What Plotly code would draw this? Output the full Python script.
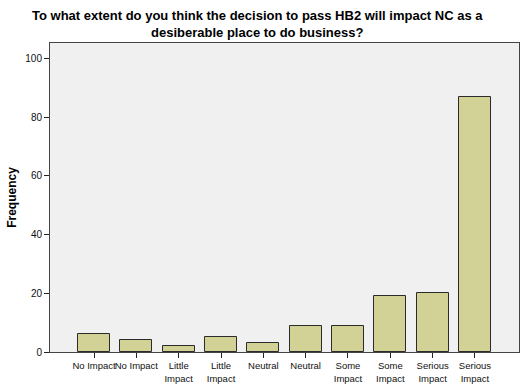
import plotly.graph_objects as go

categories = ["No Impact", "No Impact", "Little<br>Impact", "Little<br>Impact", "Neutral",
              "Neutral", "Some<br>Impact", "Some<br>Impact", "Serious<br>Impact", "Serious<br>Impact"]
frequency = [6, 4, 2, 5, 3, 9, 9, 19, 20, 87]
y_ticks = [0, 20, 40, 60, 80, 100]

positions = list(range(len(categories)))

fig = go.Figure()
fig.add_trace(go.Bar(
    x=positions, y=frequency, width=0.76,
    marker=dict(color="#D2D196", line=dict(color="#2b2b2b", width=1)),
))

font_family = "Liberation Sans, Arial, sans-serif"
fig.update_layout(
    width=532, height=384,
    margin=dict(l=50, r=13, t=43, b=32),
    paper_bgcolor="white", plot_bgcolor="#F0F0F0",
    showlegend=False,
    bargap=0,
    font=dict(family=font_family, color="black"),
)
fig.add_annotation(
    text="<b>To what extent do you think the decision to pass HB2 will impact NC as a<br>desiberable place to do business?</b>",
    xref="paper", yref="paper", x=0.442, y=1.0, xanchor="center", yanchor="bottom",
    yshift=1, showarrow=False, align="center",
    font=dict(size=13, family=font_family, color="black"),
)
fig.update_xaxes(
    range=[-1.04, 10.04], tickmode="array", tickvals=positions, ticktext=categories,
    tickangle=0, automargin=False,
    ticks="outside", ticklen=5, tickcolor="#222", tickfont=dict(size=9.5, color="#111"),
    showline=True, linecolor="#444", linewidth=1, mirror=True,
    showgrid=False, zeroline=False,
)
fig.update_yaxes(
    range=[0, 105.3], tickmode="array", tickvals=y_ticks, automargin=False,
    ticks="outside", ticklen=5, tickcolor="#222", tickfont=dict(size=10, color="#111"),
    showline=True, linecolor="#444", linewidth=1, mirror=True,
    showgrid=False, zeroline=False,
    title=dict(text="<b>Frequency</b>", font=dict(size=12, family=font_family), standoff=6),
)
fig.write_html("out.html")
